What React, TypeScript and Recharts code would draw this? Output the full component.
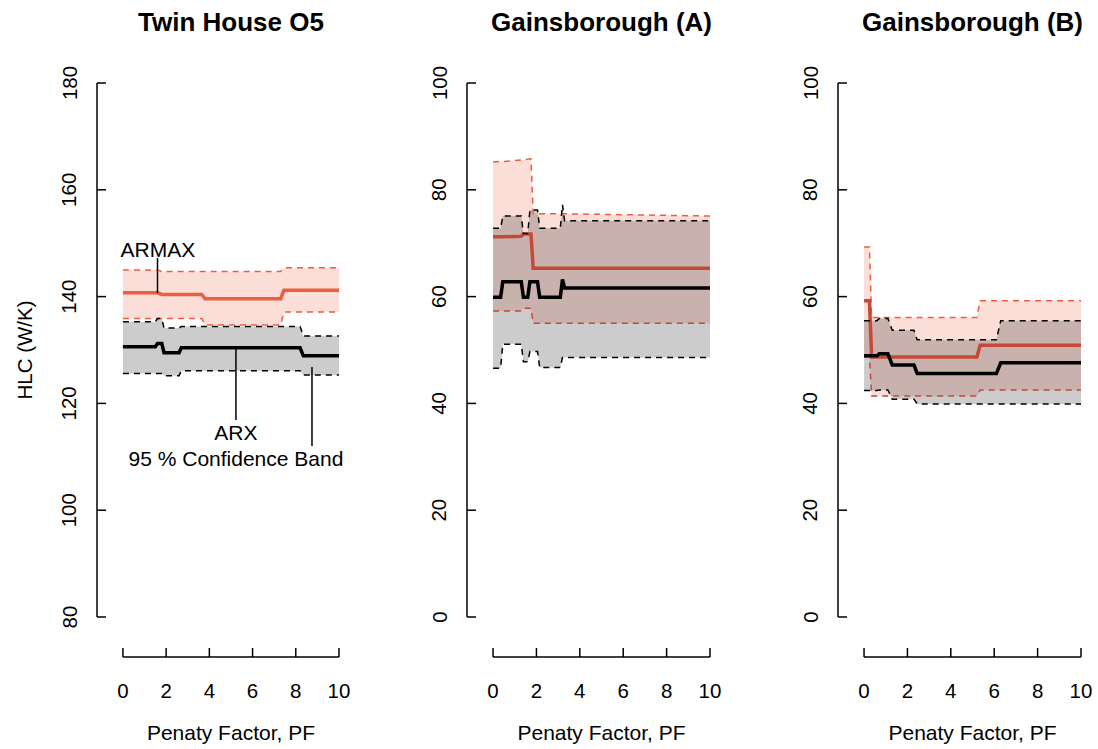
import React from "react";
import {
  ComposedChart,
  Area,
  Line,
  XAxis,
  YAxis,
  ReferenceLine,
  ReferenceDot,
} from "recharts";

// Twin House O5
const pf1 = [0, 1.5, 1.6, 1.8, 1.9, 2.6, 2.7, 3.65, 3.8, 7.3, 7.45, 8.2, 8.35, 10];
const armax1 = [140.7, 140.7, 140.7, 140.4, 140.4, 140.4, 140.4, 140.4, 139.6, 139.6, 141.2, 141.2, 141.2, 141.2];
const armaxUp1 = [145.0, 145.0, 145.0, 144.7, 144.7, 144.7, 144.7, 144.7, 144.7, 144.7, 145.4, 145.4, 145.4, 145.4];
const armaxLo1 = [135.9, 135.9, 135.9, 135.9, 135.9, 135.9, 135.9, 135.9, 134.7, 134.7, 137.1, 137.1, 137.1, 137.1];
const arx1 = [130.6, 130.6, 131.2, 131.2, 129.5, 129.5, 130.4, 130.4, 130.4, 130.4, 130.4, 130.4, 128.9, 128.9];
const arxUp1 = [135.3, 135.3, 135.9, 135.9, 134.1, 134.1, 134.4, 134.4, 134.4, 134.4, 134.4, 134.4, 132.6, 132.6];
const arxLo1 = [125.6, 125.6, 125.6, 125.6, 125.2, 125.2, 126.1, 126.1, 126.1, 126.1, 126.1, 126.1, 125.3, 125.3];

// Gainsborough (A)
const pf2 = [0, 0.35, 0.45, 1.3, 1.4, 1.6, 1.7, 1.75, 1.85, 2.05, 2.15, 3.1, 3.2, 3.3, 10];
const armax2 = [71.2, 71.2, 71.2, 71.3, 71.7, 71.7, 71.7, 71.7, 65.3, 65.3, 65.3, 65.3, 65.3, 65.3, 65.3];
const armaxUp2 = [85.2, 85.3, 85.3, 85.6, 85.6, 85.7, 85.8, 85.8, 75.5, 75.5, 75.5, 75.5, 75.5, 75.5, 75.1];
const armaxLo2 = [57.3, 57.3, 57.3, 57.3, 57.8, 57.8, 57.8, 57.8, 55.0, 55.0, 55.0, 55.0, 55.0, 55.0, 55.0];
const arx2 = [59.9, 59.9, 62.8, 62.8, 59.9, 59.9, 62.8, 62.8, 62.8, 62.8, 59.9, 59.9, 63.2, 61.6, 61.6];
const arxUp2 = [72.8, 72.8, 75.1, 75.1, 71.8, 71.8, 76.2, 76.2, 76.2, 76.2, 72.8, 72.8, 77.2, 74.2, 74.2];
const arxLo2 = [46.6, 46.6, 51.1, 51.1, 47.8, 47.8, 49.7, 49.7, 49.7, 49.7, 46.7, 46.7, 48.6, 48.6, 48.6];

// Gainsborough (B)
const pf3 = [0, 0.25, 0.35, 0.6, 0.7, 1.1, 1.3, 2.3, 2.45, 5.2, 5.35, 6.1, 6.3, 10];
const armax3 = [59.2, 59.2, 48.7, 48.7, 48.7, 48.7, 48.7, 48.7, 48.7, 48.7, 50.9, 50.9, 50.9, 50.9];
const armaxUp3 = [69.3, 69.3, 56.1, 56.1, 56.1, 56.1, 56.1, 56.1, 56.1, 56.1, 59.2, 59.2, 59.2, 59.2];
const armaxLo3 = [48.7, 48.7, 41.4, 41.4, 41.4, 41.4, 41.4, 41.4, 41.4, 41.4, 42.5, 42.5, 42.5, 42.5];
const arx3 = [48.9, 48.9, 48.9, 48.9, 49.3, 49.3, 47.2, 47.2, 45.6, 45.6, 45.6, 45.6, 47.6, 47.6];
const arxUp3 = [55.5, 55.5, 55.5, 55.5, 55.9, 55.9, 53.7, 53.7, 51.9, 51.9, 51.9, 51.9, 55.5, 55.5];
const arxLo3 = [42.4, 42.4, 42.4, 42.4, 42.5, 42.5, 40.8, 40.8, 39.9, 39.9, 39.9, 39.9, 39.9, 39.9];

const xTicks = [0, 2, 4, 6, 8, 10];
const yTicks1 = [80, 100, 120, 140, 160, 180];
const yTicks2 = [0, 20, 40, 60, 80, 100];

const RED = "#EE5C42";
// red seen through the translucent grey ARX band
const RED_DIM = "#C44A36";
const FONT = "'Liberation Sans', Arial, Helvetica, sans-serif";

function buildRows(pf, armax, up, lo, arx, xUp, xLo) {
  return pf.map((p, i) => ({
    pf: p,
    armax: armax[i],
    armaxUp: up[i],
    armaxLo: lo[i],
    armaxBand: [lo[i], up[i]],
    arx: arx[i],
    arxUp: xUp[i],
    arxLo: xLo[i],
    arxBand: [xLo[i], xUp[i]],
  }));
}

const YTick = (props: any) => {
  const { x, y, payload } = props;
  const tx = x - 28;
  return (
    <g>
      <line x1={x} x2={x + 9} y1={y} y2={y} stroke="#000" strokeWidth={1.5} />
      <text
        x={tx}
        y={y}
        transform={`rotate(-90 ${tx} ${y})`}
        textAnchor="middle"
        dominantBaseline="central"
        fontSize={20.5}
        fontFamily={FONT}
        fill="#000"
      >
        {payload.value}
      </text>
    </g>
  );
};

const XTick = (props: any) => {
  const { x, y, payload } = props;
  return (
    <g>
      <line x1={x} x2={x} y1={y} y2={y - 9} stroke="#000" strokeWidth={1.5} />
      <text
        x={x}
        y={y + 33}
        textAnchor="middle"
        dominantBaseline="central"
        fontSize={20.5}
        fontFamily={FONT}
        fill="#000"
      >
        {payload.value}
      </text>
    </g>
  );
};

const X_MIN = -1.2;

function Panel({ left, width, rightMargin, title, rows, yDomain, yTicks, annotate, lineColor, upColor, loColor }) {
  const yMin = yTicks[0];
  const yMax = yTicks[yTicks.length - 1];
  const plotLeft = 97;
  const plotRight = width - rightMargin;
  const x0 = plotLeft + ((0 - X_MIN) / (10 - X_MIN)) * (plotRight - plotLeft);
  const centerX = (x0 + plotRight) / 2;
  return (
    <div style={{ position: "absolute", left, top: 0, width, height: 749 }}>
      <div
        style={{
          position: "absolute",
          left: centerX - 150,
          width: 300,
          top: 6,
          textAlign: "center",
          fontFamily: FONT,
          fontWeight: "bold",
          fontSize: 26,
          lineHeight: "32px",
        }}
      >
        {title}
      </div>
      <div
        style={{
          position: "absolute",
          left: centerX - 150,
          width: 300,
          top: 719,
          textAlign: "center",
          fontFamily: FONT,
          fontSize: 21,
          lineHeight: "28px",
        }}
      >
        Penaty Factor, PF
      </div>
      <ComposedChart
        width={width}
        height={749}
        data={rows}
        margin={{ top: 83, right: rightMargin, bottom: 0, left: 0 }}
      >
        <XAxis
          type="number"
          dataKey="pf"
          domain={[X_MIN, 10]}
          ticks={xTicks}
          allowDataOverflow
          axisLine={false}
          tickLine={false}
          tickSize={0}
          tickMargin={0}
          height={92}
          tick={<XTick />}
          interval={0}
        />
        <YAxis
          type="number"
          domain={yDomain}
          ticks={yTicks}
          allowDataOverflow
          axisLine={false}
          tickLine={false}
          tickSize={0}
          tickMargin={0}
          width={97}
          tick={<YTick />}
          interval={0}
        />
        <Area
          dataKey="armaxBand"
          type="linear"
          stroke="none"
          fill={RED}
          fillOpacity={0.2}
          isAnimationActive={false}
        />
        <Area
          dataKey="arxBand"
          type="linear"
          stroke="none"
          fill="#000"
          fillOpacity={0.2}
          isAnimationActive={false}
        />
        <Line dataKey="armaxUp" type="linear" stroke={upColor} strokeWidth={1.5} strokeDasharray="6 5" dot={false} isAnimationActive={false} />
        <Line dataKey="armaxLo" type="linear" stroke={loColor} strokeWidth={1.5} strokeDasharray="6 5" dot={false} isAnimationActive={false} />
        <Line dataKey="armax" type="linear" stroke={lineColor} strokeWidth={3.5} dot={false} isAnimationActive={false} />
        <Line dataKey="arxUp" type="linear" stroke="#000" strokeWidth={1.5} strokeDasharray="6 5" dot={false} isAnimationActive={false} />
        <Line dataKey="arxLo" type="linear" stroke="#000" strokeWidth={1.5} strokeDasharray="6 5" dot={false} isAnimationActive={false} />
        <Line dataKey="arx" type="linear" stroke="#000" strokeWidth={3.5} dot={false} isAnimationActive={false} />
        <ReferenceLine
          segment={[{ x: X_MIN, y: yMin }, { x: X_MIN, y: yMax }]}
          stroke="#000"
          strokeWidth={1.5}
          ifOverflow="visible"
        />
        <ReferenceLine
          segment={[{ x: 0, y: yDomain[0] }, { x: 10, y: yDomain[0] }]}
          stroke="#000"
          strokeWidth={1.5}
          ifOverflow="visible"
        />
        {annotate && (
          <ReferenceLine segment={[{ x: 1.6, y: 147.2 }, { x: 1.6, y: 140.7 }]} stroke="#000" strokeWidth={1.5} ifOverflow="visible" />
        )}
        {annotate && (
          <ReferenceLine segment={[{ x: 5.23, y: 130.2 }, { x: 5.23, y: 116.9 }]} stroke="#000" strokeWidth={1.5} ifOverflow="visible" />
        )}
        {annotate && (
          <ReferenceLine segment={[{ x: 8.75, y: 126.8 }, { x: 8.75, y: 112.0 }]} stroke="#000" strokeWidth={1.5} ifOverflow="visible" />
        )}
        {annotate && (
          <ReferenceDot x={1.62} y={148.9} r={0} ifOverflow="visible"
            label={{ value: "ARMAX", position: "center", fontSize: 21, fontFamily: FONT, fill: "#000" }} />
        )}
        {annotate && (
          <ReferenceDot x={5.23} y={114.6} r={0} ifOverflow="visible"
            label={{ value: "ARX", position: "center", fontSize: 21, fontFamily: FONT, fill: "#000" }} />
        )}
        {annotate && (
          <ReferenceDot x={5.23} y={109.6} r={0} ifOverflow="visible"
            label={{ value: "95 % Confidence Band", position: "center", fontSize: 21, fontFamily: FONT, fill: "#000" }} />
        )}
      </ComposedChart>
    </div>
  );
}

export default function App() {
  const rows1 = buildRows(pf1, armax1, armaxUp1, armaxLo1, arx1, arxUp1, arxLo1);
  const rows2 = buildRows(pf2, armax2, armaxUp2, armaxLo2, arx2, arxUp2, arxLo2);
  const rows3 = buildRows(pf3, armax3, armaxUp3, armaxLo3, arx3, arxUp3, arxLo3);
  const pad = 40 / 5.34;
  return (
    <div style={{ position: "absolute", left: 0, top: 0, width: 1098, height: 749, background: "#fff" }}>
      <div
        style={{
          position: "absolute",
          left: 25 - 100,
          top: 350 - 14,
          width: 200,
          textAlign: "center",
          transform: "rotate(-90deg)",
          fontFamily: FONT,
          fontSize: 20.5,
          lineHeight: "28px",
        }}
      >
        HLC (W/K)
      </div>
      <Panel left={0} width={370} rightMargin={31} title="Twin House O5" rows={rows1}
        yDomain={[80 - pad, 180]} yTicks={yTicks1} annotate
        lineColor={RED} upColor={RED} loColor={RED} />
      <Panel left={370} width={370} rightMargin={30} title="Gainsborough (A)" rows={rows2}
        yDomain={[0 - pad, 100]} yTicks={yTicks2} annotate={false}
        lineColor={RED_DIM} upColor={RED} loColor={RED_DIM} />
      <Panel left={741} width={357} rightMargin={17} title="Gainsborough (B)" rows={rows3}
        yDomain={[0 - pad, 100]} yTicks={yTicks2} annotate={false}
        lineColor={RED_DIM} upColor={RED} loColor={RED_DIM} />
    </div>
  );
}
